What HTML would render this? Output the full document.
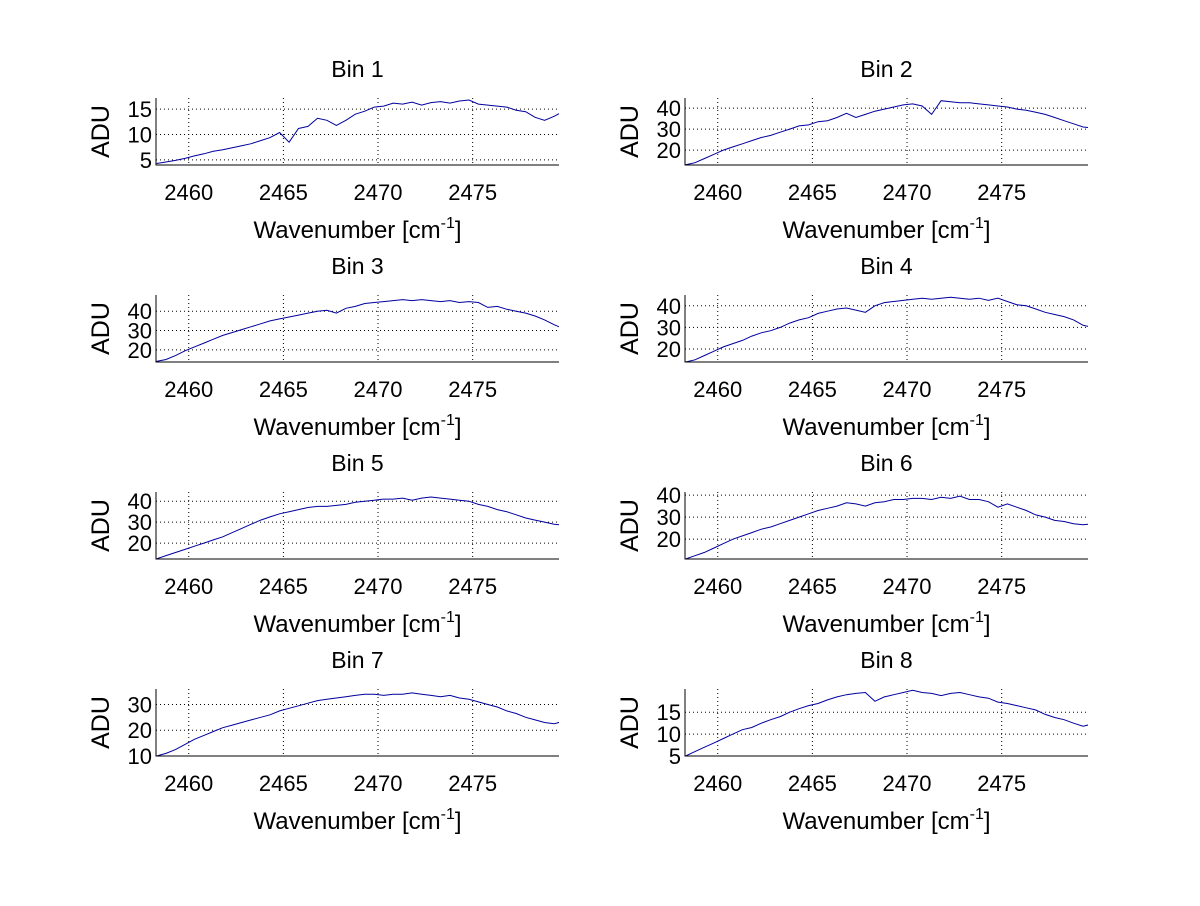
<!DOCTYPE html>
<html><head><meta charset="utf-8"><style>
body{margin:0;background:#fff;}
svg text{font-family:"Liberation Sans",sans-serif;fill:#000;}
</style></head><body>
<svg id="fig" width="1200" height="901" xmlns="http://www.w3.org/2000/svg"></svg>
<script>
const wnStart = 2458.3, wnStep = 0.5;
const xTicks = [2460, 2465, 2470, 2475];
const titles = ["Bin 1","Bin 2","Bin 3","Bin 4","Bin 5","Bin 6","Bin 7","Bin 8"];
const yRanges = [[4,17.2],[12.9,44.8],[13.7,48.4],[14,45],[12.4,44.4],[11,41.4],[10,36],[5,20.3]];
const yTicks = [[5,10,15],[20,30,40],[20,30,40],[20,30,40],[20,30,40],[20,30,40],[10,20,30],[5,10,15]];
const bin1 = [4.3,4.6,4.9,5.3,5.8,6.2,6.7,7.0,7.4,7.8,8.2,8.8,9.4,10.4,8.5,11.2,11.6,13.2,12.8,11.8,12.8,14.0,14.6,15.4,15.6,16.2,16.0,16.4,15.8,16.3,16.5,16.2,16.6,16.8,16.0,15.8,15.6,15.4,14.8,14.5,13.4,12.8,13.6,14.6];
const bin2 = [13,14,16,18,20,21.5,23,24.5,26,27,28.5,30,31.5,32,33.5,34,35.5,37.5,35.5,37,38.5,39.5,40.5,41.5,42,41,37,43.5,43,42.5,42.5,42,41.5,41,40.5,39.5,39,38,37,35.5,34,32.5,31,30.5];
const bin3 = [14,15,17,19.5,21.5,23.5,25.5,27.5,29,30.5,32,33.5,35,36,37,38,39,40,40.5,39,41.5,42.5,44,44.5,45,45.5,46,45.5,46,45.5,45,45.5,44.5,45,44.5,42,42.5,41,40,39,37.5,35.5,33,31];
const bin4 = [14,15,17,19,21,22.5,24,26,27.5,28.5,30,32,33.5,34.5,36.5,37.5,38.5,39,38,37,40,41.5,42,42.5,43,43.5,43,43.5,44,43.5,43,43.5,42.5,43.5,42,40.5,40,38.5,37,36,35,33.5,31,30];
const bin5 = [12.5,14,15.5,17,18.5,20,21.5,23,25,27,29,31,32.5,34,35,36,37,37.5,37.5,38,38.5,39.5,40,40.5,41,41,41.5,40.5,41.5,42,41.5,41,40.5,40,38.5,37.5,36,35,33.5,32,31,30,29,28.5];
const bin6 = [11,12.5,14,16,18,20,21.5,23,24.5,25.5,27,28.5,30,31.5,33,34,35,36.5,36,35,36.5,37,38,38,38.5,38.5,38,39,38.5,39.5,38,38,37,34.5,36,34.5,33,31,30,28.5,28,27,26.5,27];
const bin7 = [10,11,12.5,14.5,16.5,18,19.5,21,22,23,24,25,26,27.5,28.5,29.5,30.5,31.5,32,32.5,33,33.5,34,34,33.5,34,34,34.5,34,33.5,33,33.5,32.5,32,31,30,29,27.5,26.5,25,24,23,22.5,23.5];
const bin8 = [5,6,7,8,9,10,11,11.5,12.5,13.3,14,15,15.8,16.5,17,17.8,18.5,19,19.3,19.5,17.5,18.5,19,19.5,20,19.5,19.3,18.8,19.3,19.5,19,18.5,18.2,17.3,17,16.5,16,15.5,14.5,13.8,13.3,12.5,11.8,12.3];
const series = [bin1,bin2,bin3,bin4,bin5,bin6,bin7,bin8];

const NS = "http://www.w3.org/2000/svg";
const fig = document.getElementById("fig");
function mk(tag, attrs, parent){const e=document.createElementNS(NS,tag);for(const k in attrs)e.setAttribute(k,attrs[k]);(parent||fig).appendChild(e);return e;}
const X0=2458.27, X1=2479.56;
for(let p=0;p<8;p++){
  const col=p%2,row=Math.floor(p/2);
  const L=156+col*529, R=559+col*529, T=98+row*197, B=165+row*197;
  const [y0,y1]=yRanges[p];
  const sx=v=>L+(v-X0)/(X1-X0)*(R-L);
  const sy=v=>B-(v-y0)/(y1-y0)*(B-T);
  const g=mk("g",{});
  
  
  const cp=mk("clipPath",{id:"c"+p},g);mk("rect",{x:L,y:T,width:R-L,height:B-T},cp);
  xTicks.forEach(t=>{
    const x=sx(t);
    const gl=mk("line",{x1:x,x2:x,y1:T,y2:B,stroke:"#000","stroke-width":1,"stroke-dasharray":"1,3"},g);
    
    
    const tl=mk("text",{x:x,y:B+35,"font-size":22,"text-anchor":"middle"},g);tl.textContent=t;
    
    
  });
  yTicks[p].forEach(t=>{
    const y=sy(t);
    const gl=mk("line",{x1:L,x2:R,y1:y,y2:y,stroke:"#000","stroke-width":1,"stroke-dasharray":"1,3"},g);
    
    
    const tl=mk("text",{x:L-4,y:y+8,"font-size":22,"text-anchor":"end"},g);tl.textContent=t;
    
    
  });
  const vals=series[p];
  const pts=vals.map((v,i)=>sx(wnStart+wnStep*i).toFixed(1)+","+sy(v).toFixed(1)).join(" ");
  const ln=mk("polyline",{points:pts,fill:"none",stroke:"#00009e","stroke-width":1,"clip-path":"url(#c"+p+")"},g);
  
  
  const ax=mk("path",{d:`M${L},${T}V${B}H${R}`,fill:"none",stroke:"#000","stroke-width":1},g);
  
  
  const ti=mk("text",{x:(L+R)/2,y:T-21,"font-size":23,"text-anchor":"middle"},g);ti.textContent=titles[p];
  
  
  const yl=mk("text",{x:0,y:0,"font-size":25,"text-anchor":"middle",transform:`translate(${L-47},${(T+B)/2}) rotate(-90)`},g);yl.textContent="ADU";
  
  
  const xl=mk("text",{x:(L+R)/2,y:B+73,"font-size":24,"text-anchor":"middle"},g);
  
  
  xl.appendChild(document.createTextNode("Wavenumber [cm"));
  const sup=mk("tspan",{dy:-10,"font-size":16},xl);sup.textContent="-1";
  const end=mk("tspan",{dy:10},xl);end.textContent="]";
}
</script>
</body></html>
